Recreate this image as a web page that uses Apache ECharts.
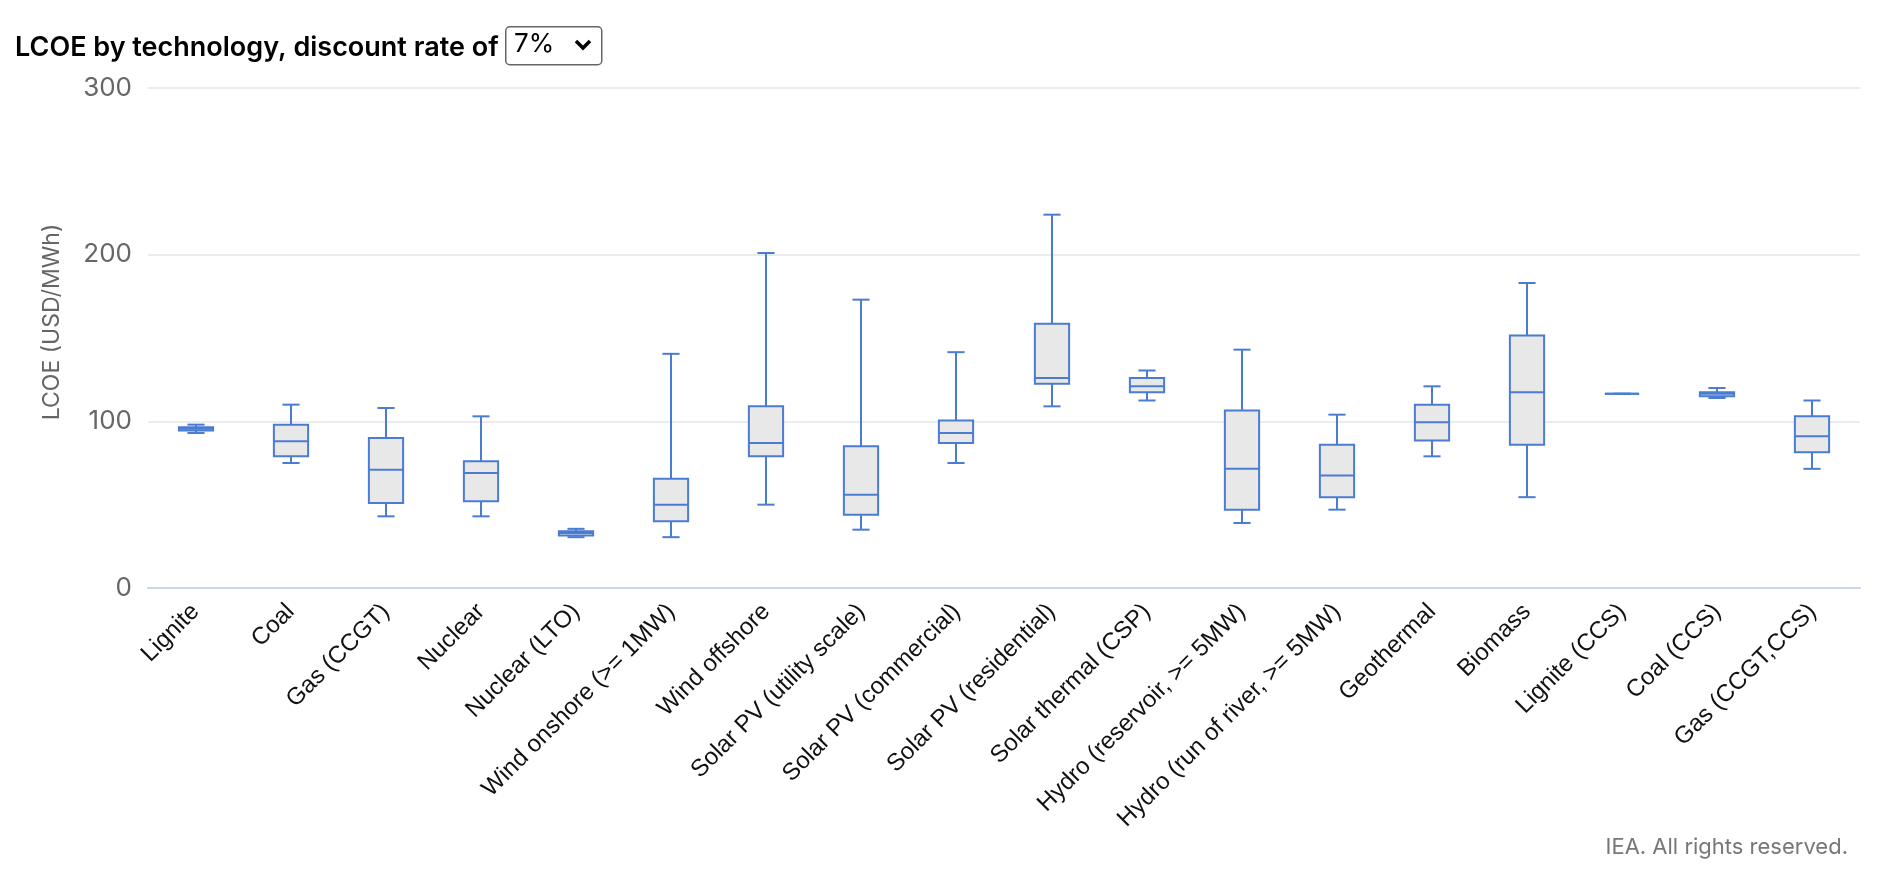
<!DOCTYPE html>
<html>
<head>
<meta charset="utf-8">
<script src="https://cdn.jsdelivr.net/npm/echarts@6/dist/echarts.min.js"></script>
<style>
  html, body { margin: 0; padding: 0; background: #fff; }
  #chart { width: 1896px; height: 878px; }
</style>
</head>
<body>
<div id="chart"></div>
<script>
// ---- Data ----
const categories = [
  'Lignite', 'Coal', 'Gas (CCGT)', 'Nuclear', 'Nuclear (LTO)',
  'Wind onshore (>= 1MW)', 'Wind offshore', 'Solar PV (utility scale)',
  'Solar PV (commercial)', 'Solar PV (residential)', 'Solar thermal (CSP)',
  'Hydro (reservoir, >= 5MW)', 'Hydro (run of river, >= 5MW)', 'Geothermal',
  'Biomass', 'Lignite (CCS)', 'Coal (CCS)', 'Gas (CCGT,CCS)'
];
const lows    = [93,   75, 43, 43, 30.5, 30.5, 50,  35, 75,    109,   112.5, 39,    47,   79,   54.5,  116.5, 114,   71.5];
const q1s     = [94.5, 79, 51, 52, 31.5, 40,   79,  44, 87,    122.5, 117.5, 47,    54.5, 88.5, 86,    116.5, 115,   81.5];
const medians = [95.5, 88, 71, 69, 33,   50,   87,  56, 93,    126,   121,   71.5,  67.5, 99.5, 117.5, 116.5, 116.5, 91];
const q3s     = [96.5, 98, 90, 76, 34,   65.5, 109, 85, 100.5, 158.5, 126,   106.5, 86,   110,  151.5, 116.5, 117.5, 103];
const highs   = [98,  110, 108, 103, 35.5, 140.5, 201, 173, 141.5, 224, 130.5, 143,  104,  121,  183,   116.5, 120,   112.5];
const yTicks = [0, 100, 200, 300];

const boxData = categories.map((c, i) => [i, lows[i], q1s[i], medians[i], q3s[i], highs[i]]);

const BLUE = '#4a7cd2';
const FILL = '#e8e8e8';

function renderBox(params, api) {
  const x = api.value(0);
  const pLow = api.coord([x, api.value(1)]);
  const pQ1 = api.coord([x, api.value(2)]);
  const pMed = api.coord([x, api.value(3)]);
  const pQ3 = api.coord([x, api.value(4)]);
  const pHigh = api.coord([x, api.value(5)]);
  const band = api.size([1, 0])[0];
  const bw = band * 0.36;
  const cw = bw * 0.5;
  const cx = Math.round(pMed[0]);
  const st = { stroke: BLUE, lineWidth: 2, fill: null };
  return {
    type: 'group',
    children: [
      { type: 'line', shape: { x1: cx, y1: pQ3[1], x2: cx, y2: pHigh[1] }, style: st },
      { type: 'line', shape: { x1: cx, y1: pQ1[1], x2: cx, y2: pLow[1] }, style: st },
      { type: 'rect', shape: { x: cx - bw / 2, y: pQ3[1], width: bw, height: pQ1[1] - pQ3[1] },
        style: { stroke: BLUE, lineWidth: 2, fill: FILL } },
      { type: 'line', shape: { x1: cx - cw / 2, y1: pHigh[1], x2: cx + cw / 2, y2: pHigh[1] }, style: st },
      { type: 'line', shape: { x1: cx - cw / 2, y1: pLow[1], x2: cx + cw / 2, y2: pLow[1] }, style: st },
      { type: 'line', shape: { x1: cx - bw / 2, y1: pMed[1], x2: cx + bw / 2, y2: pMed[1] }, style: st }
    ]
  };
}

const chart = echarts.init(document.getElementById('chart'), null, { renderer: 'canvas' });
chart.setOption({
  backgroundColor: '#fff',
  animation: false,
  title: {
    text: 'LCOE by technology, discount rate of',
    left: 10, top: 29,
    textStyle: { fontFamily: 'Inter', fontWeight: 600, fontSize: 27, color: '#000' }
  },
  grid: { left: 148, right: 36, top: 88, bottom: 290, containLabel: false },
  xAxis: {
    type: 'category',
    data: categories,
    axisLine: { lineStyle: { color: '#ccd6eb', width: 2 } },
    axisTick: { show: false },
    axisLabel: {
      rotate: 45, interval: 0, margin: 20,
      fontFamily: 'Liberation Sans', fontSize: 24, color: '#111'
    },
    splitLine: { show: false }
  },
  yAxis: {
    type: 'value',
    min: yTicks[0], max: yTicks[yTicks.length - 1], interval: 100,
    name: 'LCOE (USD/MWh)',
    nameLocation: 'middle',
    nameGap: 84,
    nameTextStyle: { fontFamily: 'Inter', fontSize: 23, color: '#666', padding: [0, 0, 0, 32] },
    axisLine: { show: false },
    axisTick: { show: false },
    axisLabel: { fontFamily: 'Inter', fontSize: 26, color: '#666', margin: 16 },
    splitLine: { lineStyle: { color: '#e6e6e6', width: 1.5 } }
  },
  series: [{
    type: 'custom',
    name: 'LCOE',
    renderItem: renderBox,
    encode: { x: 0, y: [1, 2, 3, 4, 5] },
    data: boxData,
    z: 5
  }],
  graphic: [
    { type: 'rect', left: 505, top: 26,
      shape: { width: 96, height: 38, r: 4 },
      style: { fill: '#fff', stroke: '#666', lineWidth: 1.5 } },
    { type: 'text', left: 514, top: 31,
      style: { text: '7%', font: '26px Inter', fill: '#000' } },
    { type: 'polyline', shape: { points: [[576, 41], [583, 48], [590, 41]] },
      style: { stroke: '#000', lineWidth: 3.5, fill: null } },
    { type: 'text', right: 48, top: 836,
      style: { text: 'IEA. All rights reserved.', font: '22px Inter', fill: '#777', textAlign: 'right' } }
  ]
});
</script>
</body>
</html>
